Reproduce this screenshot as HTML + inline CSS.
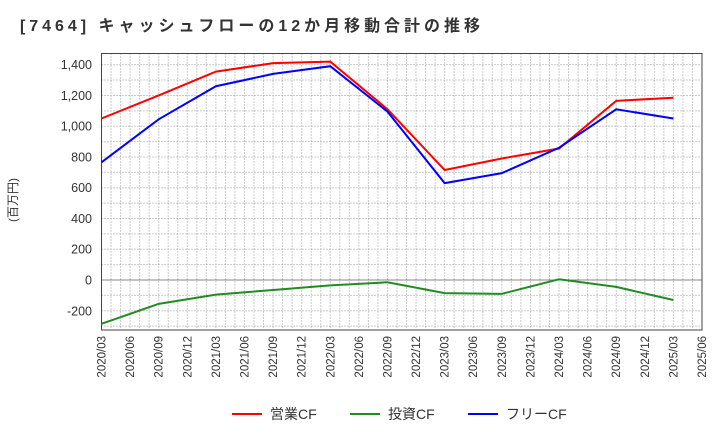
<!DOCTYPE html>
<html><head><meta charset="utf-8"><style>
body{margin:0;background:#fff;width:720px;height:440px;overflow:hidden;font-family:"Liberation Sans","Noto Sans CJK JP",sans-serif}
</style></head><body>
<svg id="c" width="720" height="440" xmlns="http://www.w3.org/2000/svg">
<text x="20" y="31" font-size="16" font-weight="bold" fill="#333" textLength="460" lengthAdjust="spacing">[7464]  キャッシュフローの12か月移動合計の推移</text>
<text transform="translate(17,200) rotate(-90)" text-anchor="middle" font-size="12" fill="#333">(百万円)</text>
<g id="grid"></g><g id="axes"></g><g id="series"></g>
<g>
<line x1="232" y1="414" x2="262" y2="414" stroke="#f00" stroke-width="2"/><text x="270" y="419" font-size="14" fill="#333">営業CF</text>
<line x1="350" y1="414" x2="380" y2="414" stroke="#228b22" stroke-width="2"/><text x="388" y="419" font-size="14" fill="#333">投資CF</text>
<line x1="468" y1="414" x2="498" y2="414" stroke="#00f" stroke-width="2"/><text x="506" y="419" font-size="14" fill="#333">フリーCF</text>
</g>
</svg>
<script>
const xLabels=["2020/03","2020/06","2020/09","2020/12","2021/03","2021/06","2021/09","2021/12","2022/03","2022/06","2022/09","2022/12","2023/03","2023/06","2023/09","2023/12","2024/03","2024/06","2024/09","2024/12","2025/03","2025/06"];
const yTicks=[-200,0,200,400,600,800,1000,1200,1400];
const pointIdx=[0,2,4,6,8,10,12,14,16,18,20];
const operatingCF=[1050,1200,1355,1410,1420,1110,715,790,855,1165,1185];
const investingCF=[-285,-155,-95,-65,-35,-15,-85,-90,5,-45,-130];
const freeCF=[765,1045,1260,1340,1390,1095,630,695,860,1110,1050];
const L=101.5,R=702,T=53.5,B=330;
const ns="http://www.w3.org/2000/svg";
const X=i=>L+(R-L)*i/(xLabels.length-1);
const Y=v=>280-v*30.76/200;
function mk(p,t,a){const e=document.createElementNS(ns,t);for(const k in a)e.setAttribute(k,a[k]);p.appendChild(e);return e;}
const grid=document.getElementById('grid'),axes=document.getElementById('axes'),ser=document.getElementById('series');
for(let m=1;m<63;m++){const x=L+(R-L)*m/63;const g=mk(grid,'line',{x1:x,x2:x,y1:T,y2:B,stroke:'#999','stroke-width':1,'stroke-dasharray':'1,2'});}
for(let v=-300;v<=1450;v+=100){if(v===0)continue;const y=Y(v);if(y<T||y>B)continue;const g=mk(grid,'line',{x1:L,x2:R,y1:y,y2:y,stroke:'#999','stroke-width':1,'stroke-dasharray':'1,2'});}
const z=mk(axes,'line',{x1:L,x2:R,y1:Y(0),y2:Y(0),stroke:'#888','stroke-width':1});
const fr=mk(axes,'rect',{x:L,y:T,width:R-L,height:B-T,fill:'none',stroke:'#444','stroke-width':1});
yTicks.forEach(v=>{const t=mk(axes,'text',{x:92,y:Y(v)+4.5,'text-anchor':'end','font-size':12.5,fill:'#333'});t.textContent=v.toLocaleString('en-US');});
xLabels.forEach((s,i)=>{const x=X(i);const t=mk(axes,'text',{transform:`translate(${x+4},336) rotate(-90)`,'text-anchor':'end','font-size':11.5,fill:'#333'});t.textContent=s;});
function line(d,c,n){const p=mk(ser,'polyline',{points:d.map((v,i)=>X(pointIdx[i])+','+Y(v)).join(' '),fill:'none',stroke:c,'stroke-width':2});}
line(investingCF,'#228b22','investing-cf-line');
line(operatingCF,'#f00','operating-cf-line');
line(freeCF,'#00f','free-cf-line');
</script>
</body></html>
